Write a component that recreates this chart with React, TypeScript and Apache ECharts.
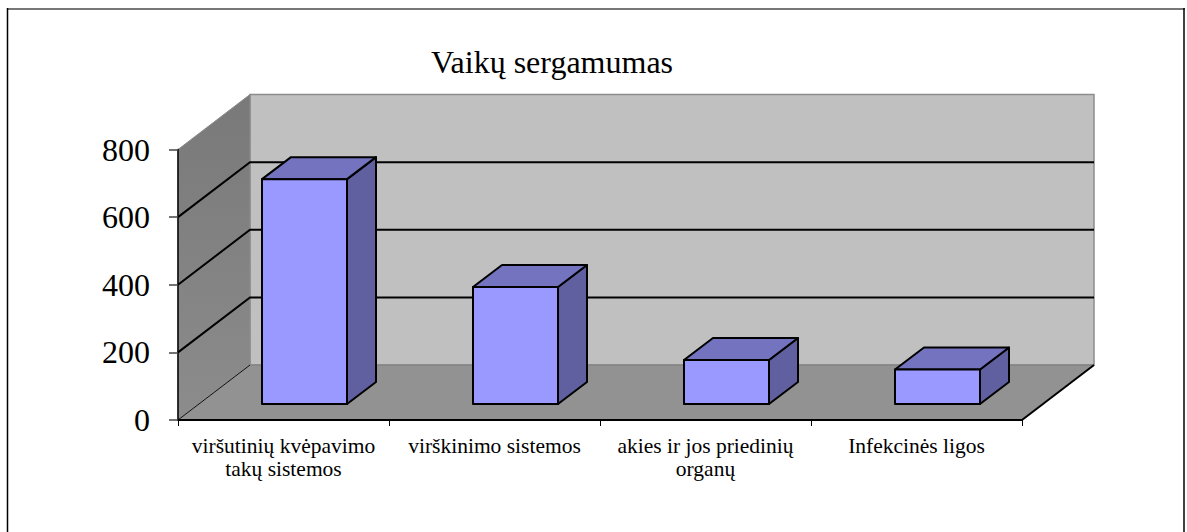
import React, { useEffect, useRef } from "react";
import * as echarts from "echarts";

const titleText = "Vaikų sergamumas";
const categories = [
  "viršutinių kvėpavimo\ntakų sistemos",
  "virškinimo sistemos",
  "akies ir jos priedinių\norganų",
  "Infekcinės ligos",
];
const values = [665, 346, 130, 102];
const gridTicks = [200, 400, 600];

const WALL_DX = 72;
const WALL_DY = -55;
const BAR_OFF_DX = 21;
const BAR_OFF_DY = -16;
const BAR_DEPTH_DX = 29;
const BAR_DEPTH_DY = -22;
const BAR_WIDTH = 85;
const FONT = "'Liberation Serif', 'Times New Roman', serif";

function bounds(api: any) {
  const band = api.size([1, 0])[0];
  const left = api.coord([0, 0])[0] - band / 2;
  const right = api.coord([categories.length - 1, 0])[0] + band / 2;
  return { left, right };
}

function renderWalls(_p: any, api: any) {
  const { left, right } = bounds(api);
  const y0 = api.coord([0, 0])[1];
  const yT = api.coord([0, 800])[1];
  const dx = WALL_DX;
  const dy = WALL_DY;
  return {
    type: "group",
    children: [
      {
        type: "polygon",
        shape: { points: [[left + dx, yT + dy], [right + dx, yT + dy], [right + dx, y0 + dy], [left + dx, y0 + dy]] },
        style: { fill: "#C0C0C0", stroke: "#8c8c8c", lineWidth: 1.5 },
      },
      {
        type: "polygon",
        shape: { points: [[left, yT], [left + dx, yT + dy], [left + dx, y0 + dy], [left, y0]] },
        style: {
          fill: new echarts.graphic.LinearGradient(0, 0, 0, 1, [
            { offset: 0, color: "#797979" },
            { offset: 1, color: "#8c8c8c" },
          ]),
          stroke: "#8c8c8c",
          lineWidth: 1,
        },
      },
      {
        type: "polygon",
        shape: { points: [[left, y0], [left + dx, y0 + dy], [right + dx, y0 + dy], [right, y0]] },
        style: { fill: "#929292", stroke: "none" },
      },
      {
        type: "polyline",
        shape: { points: [[left + dx, y0 + dy], [right + dx, y0 + dy]] },
        style: { fill: "none", stroke: "#7d7d7d", lineWidth: 1 },
      },
      {
        type: "polyline",
        shape: { points: [[left, y0], [left + dx, y0 + dy]] },
        style: { fill: "none", stroke: "#111", lineWidth: 1 },
      },
      {
        type: "polyline",
        shape: { points: [[right, y0], [right + dx, y0 + dy]] },
        style: { fill: "none", stroke: "#000", lineWidth: 2 },
      },
    ],
  };
}

function renderGridLine(_p: any, api: any) {
  const { left, right } = bounds(api);
  const y = api.coord([0, api.value(0)])[1];
  return {
    type: "polyline",
    shape: { points: [[left, y], [left + WALL_DX, y + WALL_DY], [right + WALL_DX, y + WALL_DY]] },
    style: { fill: "none", stroke: "#000", lineWidth: 2 },
  };
}

function renderBar(_p: any, api: any) {
  const c = api.coord([api.value(0), 0]);
  const t = api.coord([api.value(0), api.value(1)]);
  const x0 = c[0] + BAR_OFF_DX - BAR_WIDTH / 2;
  const x1 = x0 + BAR_WIDTH;
  const yb = c[1] + BAR_OFF_DY;
  const yt = t[1] + BAR_OFF_DY;
  const dx = BAR_DEPTH_DX;
  const dy = BAR_DEPTH_DY;
  const line = { stroke: "#000", lineWidth: 2, lineJoin: "round" };
  return {
    type: "group",
    children: [
      { type: "polygon", shape: { points: [[x1, yt], [x1 + dx, yt + dy], [x1 + dx, yb + dy], [x1, yb]] }, style: { fill: "#6060A0", ...line } },
      { type: "polygon", shape: { points: [[x0, yt], [x0 + dx, yt + dy], [x1 + dx, yt + dy], [x1, yt]] }, style: { fill: "#7373BF", ...line } },
      { type: "polygon", shape: { points: [[x0, yt], [x1, yt], [x1, yb], [x0, yb]] }, style: { fill: "#9999FF", ...line } },
    ],
  };
}

export default function App() {
  const ref = useRef<HTMLDivElement>(null);
  useEffect(() => {
    document.body.style.margin = "0";
    const chart = echarts.init(ref.current!, null, { renderer: "svg" });
    chart.setOption({
      animation: false,
      backgroundColor: "#ffffff",
      title: {
        text: titleText,
        left: 426,
        top: 41,
        textStyle: { fontFamily: FONT, fontSize: 32, fontWeight: "normal", color: "#000" },
      },
      graphic: [
        { type: "line", shape: { x1: 7, y1: 9, x2: 1185, y2: 9 }, style: { stroke: "#777", lineWidth: 2 } },
        { type: "line", shape: { x1: 7.5, y1: 8, x2: 7.5, y2: 532 }, style: { stroke: "#000", lineWidth: 1.5 } },
        { type: "line", shape: { x1: 1184, y1: 8, x2: 1184, y2: 532 }, style: { stroke: "#000", lineWidth: 1.5 } },
      ],
      grid: { left: 178, top: 149.5, width: 844, height: 270.5, containLabel: false },
      xAxis: {
        type: "category",
        data: categories,
        z: 5,
        axisLine: { lineStyle: { color: "#000", width: 2 } },
        axisTick: { show: true, alignWithLabel: false, length: 6, lineStyle: { color: "#000", width: 1 } },
        axisLabel: {
          interval: 0,
          margin: 14,
          fontFamily: FONT,
          fontSize: 21.5,
          lineHeight: 23,
          color: "#000",
        },
        splitLine: { show: false },
      },
      yAxis: {
        type: "value",
        min: 0,
        max: 800,
        interval: 200,
        z: 5,
        axisLine: { show: true, lineStyle: { color: "#000", width: 1.5 } },
        axisTick: { show: true, length: 9, lineStyle: { color: "#444", width: 1.5 } },
        axisLabel: { margin: 28, fontFamily: FONT, fontSize: 32, color: "#000" },
        splitLine: { show: false },
      },
      series: [
        { type: "custom", z: 1, silent: true, renderItem: renderWalls, data: [[0]], clip: false },
        { type: "custom", z: 2, silent: true, renderItem: renderGridLine, data: gridTicks.map((v) => [v]), clip: false },
        {
          type: "custom",
          z: 6,
          silent: true,
          renderItem: renderBar,
          encode: { x: 0, y: 1 },
          data: values.map((v, i) => [i, v]),
          clip: false,
        },
      ],
    });
    return () => chart.dispose();
  }, []);
  return <div ref={ref} style={{ width: 1187, height: 532 }} />;
}
